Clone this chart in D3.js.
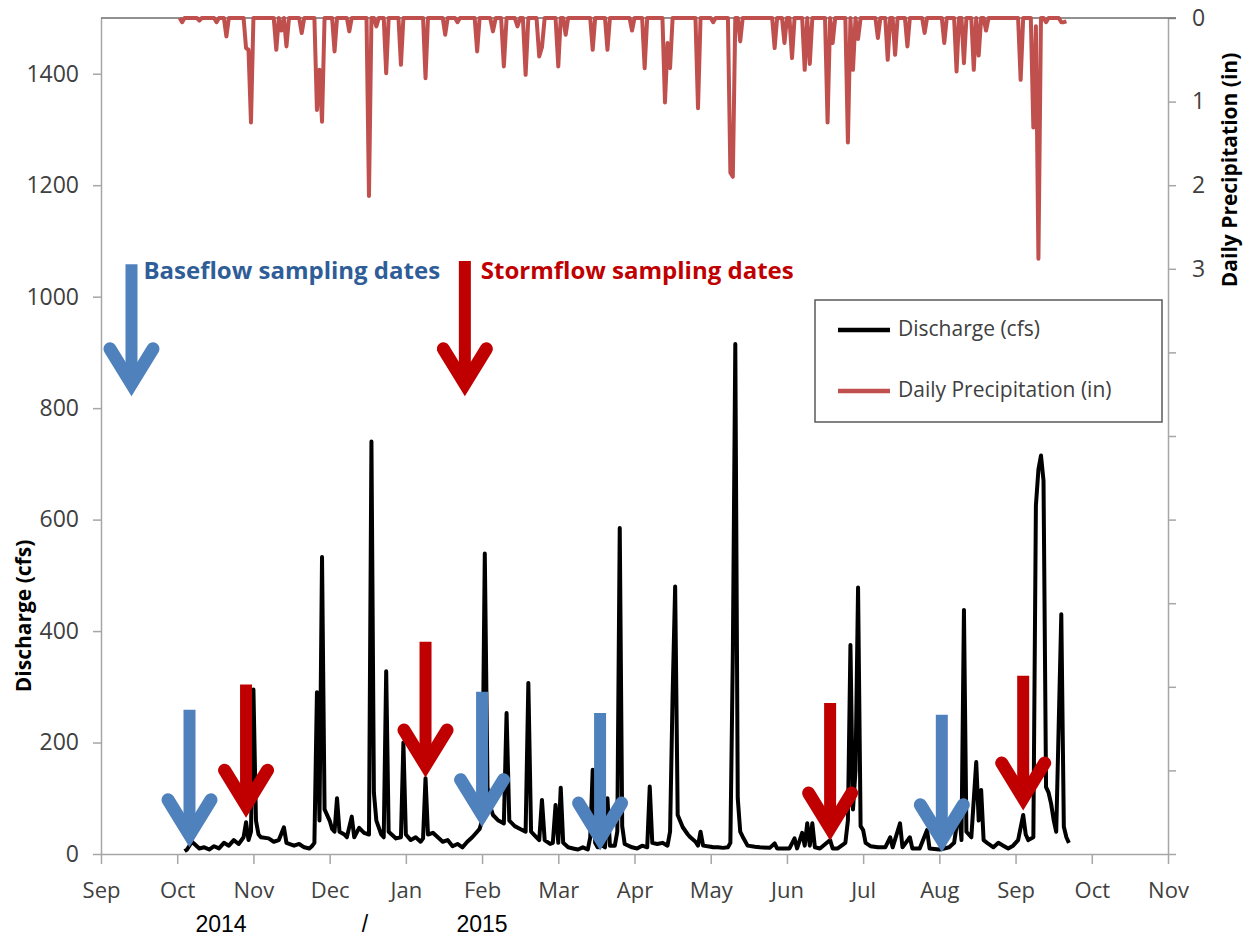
<!DOCTYPE html>
<html>
<head>
<meta charset="utf-8">
<script src="https://cdn.jsdelivr.net/npm/d3@7"></script>
<style>
    body { margin: 0; background: #fff; }
    svg { display: block; font-family: "Open Sans", Lato, sans-serif; }
</style>
</head>
<body>
<script>
(function () {

    //discharge (cfs): [date, value]
    var discharge = [
        ["2014-10-04", 5], ["2014-10-05", 8], ["2014-10-07", 22], ["2014-10-08", 18], ["2014-10-10", 10],
        ["2014-10-12", 12], ["2014-10-14", 8], ["2014-10-16", 14], ["2014-10-18", 10], ["2014-10-20", 20],
        ["2014-10-22", 15], ["2014-10-24", 25], ["2014-10-26", 18], ["2014-10-28", 30], ["2014-10-29", 57],
        ["2014-10-30", 25], ["2014-10-31", 40], ["2014-11-01", 295], ["2014-11-02", 60], ["2014-11-03", 35],
        ["2014-11-04", 30], ["2014-11-07", 28], ["2014-11-09", 22], ["2014-11-11", 25], ["2014-11-13", 48],
        ["2014-11-14", 20], ["2014-11-17", 15], ["2014-11-19", 18], ["2014-11-21", 12], ["2014-11-23", 10],
        ["2014-11-24", 14], ["2014-11-25", 20], ["2014-11-26", 290], ["2014-11-27", 60], ["2014-11-28", 533],
        ["2014-11-29", 80], ["2014-12-01", 60], ["2014-12-02", 45], ["2014-12-03", 40], ["2014-12-04", 100],
        ["2014-12-05", 40], ["2014-12-07", 35], ["2014-12-08", 30], ["2014-12-10", 67], ["2014-12-11", 30],
        ["2014-12-13", 47], ["2014-12-15", 38], ["2014-12-17", 35], ["2014-12-18", 740], ["2014-12-19", 110],
        ["2014-12-20", 60], ["2014-12-22", 35], ["2014-12-23", 30], ["2014-12-24", 328], ["2014-12-25", 40],
        ["2014-12-28", 28], ["2014-12-30", 30], ["2014-12-31", 200], ["2015-01-01", 35], ["2015-01-03", 25],
        ["2015-01-05", 30], ["2015-01-07", 22], ["2015-01-08", 28], ["2015-01-09", 136], ["2015-01-10", 35],
        ["2015-01-12", 38], ["2015-01-14", 30], ["2015-01-16", 22], ["2015-01-18", 25], ["2015-01-20", 14],
        ["2015-01-22", 18], ["2015-01-24", 12], ["2015-01-26", 22], ["2015-01-28", 30], ["2015-01-30", 40],
        ["2015-01-31", 45], ["2015-02-01", 60], ["2015-02-02", 539], ["2015-02-03", 120], ["2015-02-04", 85],
        ["2015-02-05", 70], ["2015-02-07", 60], ["2015-02-09", 55], ["2015-02-10", 253], ["2015-02-11", 60],
        ["2015-02-13", 50], ["2015-02-15", 45], ["2015-02-17", 40], ["2015-02-18", 307], ["2015-02-19", 40],
        ["2015-02-21", 30], ["2015-02-22", 25], ["2015-02-23", 97], ["2015-02-24", 25], ["2015-02-26", 18],
        ["2015-02-27", 20], ["2015-02-28", 88], ["2015-03-01", 20], ["2015-03-02", 119], ["2015-03-03", 20],
        ["2015-03-05", 12], ["2015-03-07", 10], ["2015-03-09", 8], ["2015-03-11", 12], ["2015-03-13", 8],
        ["2015-03-14", 30], ["2015-03-15", 151], ["2015-03-16", 20], ["2015-03-17", 12], ["2015-03-19", 15],
        ["2015-03-20", 12], ["2015-03-21", 100], ["2015-03-22", 15], ["2015-03-24", 15], ["2015-03-25", 40],
        ["2015-03-26", 585], ["2015-03-27", 50], ["2015-03-28", 18], ["2015-03-31", 12], ["2015-04-02", 10],
        ["2015-04-04", 15], ["2015-04-06", 12], ["2015-04-07", 121], ["2015-04-08", 20], ["2015-04-10", 18],
        ["2015-04-12", 20], ["2015-04-14", 15], ["2015-04-15", 40], ["2015-04-16", 285], ["2015-04-17", 480],
        ["2015-04-18", 70], ["2015-04-20", 48], ["2015-04-22", 35], ["2015-04-23", 30], ["2015-04-25", 22],
        ["2015-04-26", 15], ["2015-04-27", 40], ["2015-04-28", 15], ["2015-05-01", 13], ["2015-05-02", 12],
        ["2015-05-04", 12], ["2015-05-06", 11], ["2015-05-08", 12], ["2015-05-09", 20], ["2015-05-10", 360],
        ["2015-05-11", 915], ["2015-05-12", 100], ["2015-05-13", 40], ["2015-05-14", 31], ["2015-05-16", 15],
        ["2015-05-19", 13], ["2015-05-21", 12], ["2015-05-25", 11], ["2015-05-27", 19], ["2015-05-28", 10],
        ["2015-05-31", 10], ["2015-06-02", 10], ["2015-06-04", 28], ["2015-06-05", 10], ["2015-06-07", 38],
        ["2015-06-08", 15], ["2015-06-09", 55], ["2015-06-10", 15], ["2015-06-11", 55], ["2015-06-12", 12],
        ["2015-06-14", 10], ["2015-06-18", 25], ["2015-06-19", 10], ["2015-06-21", 10], ["2015-06-24", 20],
        ["2015-06-25", 60], ["2015-06-26", 375], ["2015-06-27", 80], ["2015-06-28", 150], ["2015-06-29", 478],
        ["2015-06-30", 50], ["2015-07-01", 43], ["2015-07-02", 20], ["2015-07-04", 14], ["2015-07-07", 12],
        ["2015-07-10", 12], ["2015-07-12", 30], ["2015-07-13", 12], ["2015-07-16", 55], ["2015-07-17", 12],
        ["2015-07-20", 30], ["2015-07-21", 10], ["2015-07-24", 10], ["2015-07-27", 43], ["2015-07-28", 10],
        ["2015-08-01", 8], ["2015-08-03", 10], ["2015-08-05", 12], ["2015-08-07", 20], ["2015-08-09", 80],
        ["2015-08-10", 25], ["2015-08-11", 438], ["2015-08-12", 40], ["2015-08-14", 30], ["2015-08-16", 165],
        ["2015-08-17", 60], ["2015-08-18", 115], ["2015-08-19", 25], ["2015-08-21", 18], ["2015-08-23", 12],
        ["2015-08-25", 20], ["2015-08-27", 15], ["2015-08-29", 10], ["2015-08-31", 15], ["2015-09-02", 25],
        ["2015-09-04", 70], ["2015-09-05", 35], ["2015-09-06", 25], ["2015-09-08", 30], ["2015-09-09", 625],
        ["2015-09-10", 690], ["2015-09-11", 715], ["2015-09-12", 670], ["2015-09-13", 120], ["2015-09-14", 110],
        ["2015-09-15", 90], ["2015-09-16", 61], ["2015-09-17", 40], ["2015-09-19", 430], ["2015-09-20", 49],
        ["2015-09-21", 30], ["2015-09-22", 20]
    ];

    //daily precipitation (in) on the days with rain, the other days read as 0
    var precipitation = [
        ["2014-10-03", 0.05], ["2014-10-10", 0.03], ["2014-10-17", 0.05], ["2014-10-21", 0.22],
        ["2014-10-29", 0.36], ["2014-10-30", 0.38], ["2014-10-31", 1.25], ["2014-11-10", 0.38],
        ["2014-11-12", 0.15], ["2014-11-14", 0.34], ["2014-11-20", 0.18], ["2014-11-26", 1.1],
        ["2014-11-27", 0.62], ["2014-11-28", 1.24], ["2014-12-03", 0.4], ["2014-12-09", 0.16],
        ["2014-12-17", 2.13], ["2014-12-20", 0.1], ["2014-12-24", 0.66], ["2014-12-30", 0.56],
        ["2015-01-09", 0.72], ["2015-01-17", 0.2], ["2015-01-22", 0.05], ["2015-01-30", 0.4],
        ["2015-02-05", 0.16], ["2015-02-09", 0.58], ["2015-02-14", 0.1], ["2015-02-17", 0.68],
        ["2015-02-22", 0.46], ["2015-02-23", 0.35], ["2015-03-01", 0.58], ["2015-03-04", 0.2],
        ["2015-03-15", 0.38], ["2015-03-21", 0.38], ["2015-03-31", 0.15], ["2015-04-05", 0.6],
        ["2015-04-13", 1.01], ["2015-04-14", 0.3], ["2015-04-15", 0.6], ["2015-04-26", 1.08],
        ["2015-05-02", 0.05], ["2015-05-09", 1.85], ["2015-05-10", 1.9], ["2015-05-13", 0.28],
        ["2015-05-27", 0.36], ["2015-05-31", 0.3], ["2015-06-03", 0.48], ["2015-06-08", 0.62],
        ["2015-06-10", 0.55], ["2015-06-17", 1.25], ["2015-06-19", 0.3], ["2015-06-25", 1.49],
        ["2015-06-27", 0.62], ["2015-06-29", 0.25], ["2015-07-07", 0.24], ["2015-07-11", 0.5],
        ["2015-07-14", 0.44], ["2015-07-19", 0.34], ["2015-07-26", 0.18], ["2015-08-03", 0.3],
        ["2015-08-08", 0.64], ["2015-08-11", 0.54], ["2015-08-15", 0.62], ["2015-08-17", 0.45],
        ["2015-08-20", 0.15], ["2015-09-03", 0.74], ["2015-09-08", 1.31], ["2015-09-09", 0.1],
        ["2015-09-10", 2.88], ["2015-09-13", 0.05], ["2015-09-19", 0.05], ["2015-09-20", 0.05],
        ["2015-09-21", 0.04]
    ];

    //first day and the day after the last day of the precipitation record
    var precipStart = "2014-10-02",
        precipEnd = "2015-09-22";

    //sampling dates: [date, arrow top (cfs), arrow tip (cfs)]
    var baseflowSamples = [
        ["2014-10-06", 259, 13], ["2015-02-01", 291, 49], ["2015-03-18", 253, 7], ["2015-08-02", 250, 4]
    ];
    var stormflowSamples = [
        ["2014-10-29", 304, 66], ["2015-01-09", 381, 138], ["2015-06-18", 271, 25], ["2015-09-04", 320, 79]
    ];

    //key arrows next to the annotation labels
    var baseflowKey = ["2014-09-13", 1058, 822],
        stormflowKey = ["2015-01-25", 1064, 822];

    //tick values and labels
    var dischargeTicks = [0, 200, 400, 600, 800, 1000, 1200, 1400];
    var precipTicks = [0, 1, 2, 3, 4, 5, 6, 7, 8, 9, 10];
    var precipLabels = ["0", "1", "2", "3"];
    var firstMonth = "2014-09-01",
        lastMonth = "2015-11-01";

    var parseDate = d3.timeParse("%Y-%m-%d"),
        formatDate = d3.timeFormat("%Y-%m-%d");

    setChart();

    function setChart() {
        //svg frame and plot area
        var width = 1251,
            height = 937;
        var left = 101, right = 1168, top = 18, bottom = 854;

        var svg = d3.select("body")
            .append("svg")
            .attr("width", width)
            .attr("height", height);

        //months are spaced evenly like the original date axis
        var months = d3.timeMonth.range(parseDate(firstMonth), d3.timeDay.offset(parseDate(lastMonth), 1));
        var x = d3.scaleTime()
            .domain(months)
            .range(months.map(function (d, i) {
                return left + i * (right - left) / (months.length - 1);
            }));

        var y = d3.scaleLinear()
            .domain([0, 1500])
            .range([bottom, top]);

        //precipitation hangs from the top, 0 at the top
        var yRain = d3.scaleLinear()
            .domain([0, 10])
            .range([top, bottom]);

        //daily precipitation series
        var rain = new Map(precipitation);
        var rainDays = d3.timeDay.range(parseDate(precipStart), parseDate(precipEnd)).map(function (d) {
            var key = formatDate(d);
            return [d, rain.has(key) ? rain.get(key) : 0];
        });

        var flow = discharge.map(function (d) {
            return [parseDate(d[0]), d[1]];
        });

        //axes
        var leftAxis = svg.append("g")
            .attr("class", "axis")
            .attr("transform", "translate(" + left + ",0)")
            .call(d3.axisLeft(y).tickValues(dischargeTicks).tickSize(8).tickSizeOuter(0).tickPadding(14)
                .tickFormat(d3.format("d")));

        var rightAxis = svg.append("g")
            .attr("class", "axis")
            .attr("transform", "translate(" + right + ",0)")
            .call(d3.axisRight(yRain).tickValues(precipTicks).tickSize(8).tickSizeOuter(0).tickPadding(16)
                .tickFormat(function (d, i) {
                    return i < precipLabels.length ? precipLabels[i] : "";
                }));

        var bottomAxis = svg.append("g")
            .attr("class", "axis")
            .attr("transform", "translate(0," + bottom + ")")
            .call(d3.axisBottom(x).tickValues(months).tickSize(10).tickSizeOuter(0)
                .tickFormat(d3.timeFormat("%b")));

        svg.selectAll(".axis path, .axis line")
            .attr("stroke", "#a6a6a6")
            .attr("stroke-width", 1.5);
        svg.selectAll(".axis text")
            .attr("fill", "#404040")
            .attr("font-size", 23)
            .attr("font-family", "'Open Sans', sans-serif");
        bottomAxis.selectAll("text")
            .attr("font-size", 22)
            .attr("dy", null)
            .attr("y", 44);

        //top frame line
        svg.append("line")
            .attr("x1", left)
            .attr("x2", right + 8)
            .attr("y1", top)
            .attr("y2", top)
            .attr("stroke", "#6d6d6d")
            .attr("stroke-width", 1.5);

        //precipitation line
        svg.append("path")
            .datum(rainDays)
            .attr("fill", "none")
            .attr("stroke", "#c0504d")
            .attr("stroke-width", 4)
            .attr("stroke-linejoin", "round")
            .attr("d", d3.line()
                .x(function (d) { return x(d[0]); })
                .y(function (d) { return yRain(d[1]); }));

        //discharge line
        svg.append("path")
            .datum(flow)
            .attr("fill", "none")
            .attr("stroke", "#000")
            .attr("stroke-width", 4)
            .attr("stroke-linejoin", "round")
            .attr("d", d3.line()
                .x(function (d) { return x(d[0]); })
                .y(function (d) { return y(d[1]); }));

        //sampling arrows
        baseflowSamples.forEach(function (d) { drawArrow(svg, d, "#4f81bd", x, y); });
        stormflowSamples.forEach(function (d) { drawArrow(svg, d, "#c00000", x, y); });
        drawArrow(svg, baseflowKey, "#4f81bd", x, y);
        drawArrow(svg, stormflowKey, "#c00000", x, y);

        //annotation labels next to the key arrows
        svg.append("text")
            .attr("x", x(parseDate(baseflowKey[0])) + 12)
            .attr("y", 279)
            .attr("font-size", 24)
            .attr("font-weight", "bold")
            .attr("fill", "#2f5d97")
            .text("Baseflow sampling dates");

        svg.append("text")
            .attr("x", x(parseDate(stormflowKey[0])) + 16)
            .attr("y", 279)
            .attr("font-size", 24)
            .attr("font-weight", "bold")
            .attr("fill", "#c00000")
            .text("Stormflow sampling dates");

        //axis titles
        svg.append("text")
            .attr("transform", "translate(25,616) rotate(-90)")
            .attr("text-anchor", "middle")
            .attr("dominant-baseline", "middle")
            .attr("font-size", 21)
            .attr("font-weight", "bold")
            .attr("fill", "#000")
            .text("Discharge (cfs)");

        svg.append("text")
            .attr("transform", "translate(1231,170) rotate(-90)")
            .attr("text-anchor", "middle")
            .attr("dominant-baseline", "middle")
            .attr("font-size", 21)
            .attr("font-weight", "bold")
            .attr("fill", "#000")
            .text("Daily Precipitation (in)");

        //year labels under the month axis
        var years = [["2014", 221], ["/", 365], ["2015", x(months[5])]];
        svg.selectAll(".year")
            .data(years)
            .enter()
            .append("text")
            .attr("class", "year")
            .attr("x", function (d) { return d[1]; })
            .attr("y", 932)
            .attr("text-anchor", "middle")
            .attr("font-family", "'Liberation Sans', Arial, sans-serif")
            .attr("font-size", 23)
            .attr("fill", "#000")
            .text(function (d) { return d[0]; });

        setLegend(svg);
    };

    //block arrow pointing down at a sampling date
    function drawArrow(svg, d, color, x, y) {
        var cx = x(parseDate(d[0])),
            yTop = y(d[1]),
            yTip = y(d[2]) - 12;
        var g = svg.append("g").attr("class", "arrow");
        g.append("line")
            .attr("x1", cx)
            .attr("x2", cx)
            .attr("y1", yTop)
            .attr("y2", yTip)
            .attr("stroke", color)
            .attr("stroke-width", 12);
        g.append("path")
            .attr("d", "M" + (cx - 21.5) + "," + (yTip - 35) + "L" + cx + "," + yTip + "L" + (cx + 21.5) + "," + (yTip - 35))
            .attr("fill", "none")
            .attr("stroke", color)
            .attr("stroke-width", 13)
            .attr("stroke-linecap", "round")
            .attr("stroke-linejoin", "miter");
    };

    function setLegend(svg) {
        var legend = svg.append("g")
            .attr("class", "legend")
            .attr("transform", "translate(815,300)");

        legend.append("rect")
            .attr("width", 347)
            .attr("height", 122)
            .attr("fill", "#fff")
            .attr("stroke", "#595959")
            .attr("stroke-width", 1.5);

        var items = [["Discharge (cfs)", "#000", 30], ["Daily Precipitation (in)", "#c0504d", 91]];
        items.forEach(function (d) {
            legend.append("line")
                .attr("x1", 23)
                .attr("x2", 75)
                .attr("y1", d[2])
                .attr("y2", d[2])
                .attr("stroke", d[1])
                .attr("stroke-width", 4.5);
            legend.append("text")
                .attr("x", 83)
                .attr("y", d[2])
                .attr("dominant-baseline", "middle")
                .attr("font-size", 21)
                .attr("fill", "#404040")
                .text(d[0]);
        });
    };

})();
</script>
</body>
</html>
